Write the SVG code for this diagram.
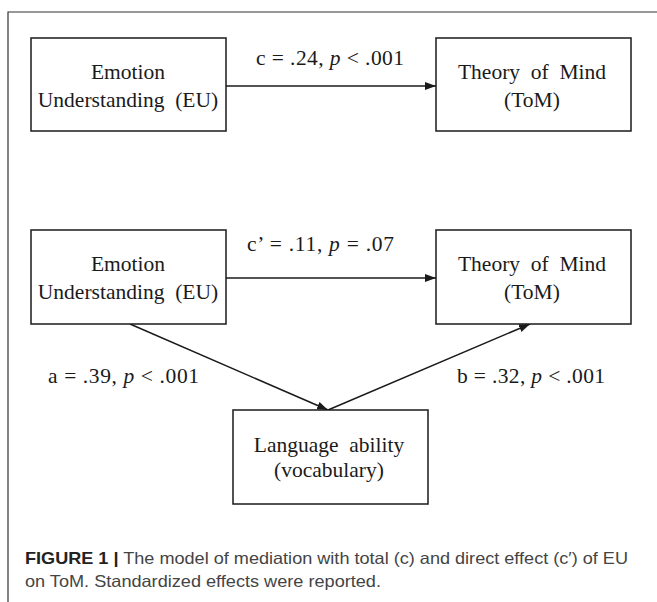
<svg xmlns="http://www.w3.org/2000/svg" width="657" height="602" viewBox="0 0 657 602">
<style>
.box{fill:#fff;stroke:#1a1a1a;stroke-width:1.5}
.t{font-family:"Liberation Serif","Times New Roman",serif;font-size:21.5px;fill:#1a1a1a;text-anchor:middle;white-space:pre}
.lbl{font-family:"Liberation Serif","Times New Roman",serif;font-size:21.5px;fill:#1a1a1a;white-space:pre}
.edge{stroke:#1a1a1a;stroke-width:1.5;fill:none}
.cap{font-family:"Liberation Sans",Arial,sans-serif;font-size:16.5px;fill:#444}
</style>
<defs>
<marker id="ah" markerUnits="userSpaceOnUse" markerWidth="11" markerHeight="8" refX="11" refY="4" orient="auto">
<path d="M0,0 L11,4 L0,8 z" fill="#1a1a1a"/>
</marker>
</defs>
<rect width="657" height="602" fill="#fff"/>
<path d="M8,602 L8,12 L657,12" fill="none" stroke="#333" stroke-width="1.2"/>

<g id="edges">
<line class="edge" x1="226" y1="86" x2="436" y2="86" marker-end="url(#ah)"/>
<line class="edge" x1="226" y1="278" x2="436" y2="278" marker-end="url(#ah)"/>
<line class="edge" x1="130" y1="324" x2="328" y2="410" marker-end="url(#ah)"/>
<line class="edge" x1="328" y1="410" x2="530" y2="324" marker-end="url(#ah)"/>
<text class="lbl" x="256" y="65" textLength="148">c = .24, <tspan font-style="italic">p</tspan> &lt; .001</text>
<text class="lbl" x="247" y="251" textLength="147">c’ = .11, <tspan font-style="italic">p</tspan> = .07</text>
<text class="lbl" x="48" y="383" textLength="151">a = .39, <tspan font-style="italic">p</tspan> &lt; .001</text>
<text class="lbl" x="457" y="383" textLength="148">b = .32, <tspan font-style="italic">p</tspan> &lt; .001</text>
</g>

<g id="eu1">
<rect class="box" x="31" y="38" width="195" height="93"/>
<text class="t" x="128" y="79">Emotion</text>
<text class="t" x="128" y="107">Understanding  (EU)</text>
</g>
<g id="tom1">
<rect class="box" x="436" y="38" width="195" height="93"/>
<text class="t" x="532" y="79">Theory  of  Mind</text>
<text class="t" x="532" y="107">(ToM)</text>
</g>
<g id="eu2">
<rect class="box" x="31" y="230" width="195" height="94"/>
<text class="t" x="128" y="271">Emotion</text>
<text class="t" x="128" y="299">Understanding  (EU)</text>
</g>
<g id="tom2">
<rect class="box" x="436" y="230" width="195" height="94"/>
<text class="t" x="532" y="271">Theory  of  Mind</text>
<text class="t" x="532" y="299">(ToM)</text>
</g>
<g id="lang">
<rect class="box" x="233" y="410" width="195" height="94"/>
<text class="t" x="329" y="452">Language  ability</text>
<text class="t" x="329" y="477">(vocabulary)</text>
</g>

<g id="caption">
<text class="cap" x="25" y="564" textLength="603" lengthAdjust="spacingAndGlyphs"><tspan font-weight="bold" fill="#222">FIGURE 1 |</tspan> The model of mediation with total (c) and direct effect (c′) of EU</text>
<text class="cap" x="25" y="587" textLength="356" lengthAdjust="spacingAndGlyphs">on ToM. Standardized effects were reported.</text>
</g>
</svg>
